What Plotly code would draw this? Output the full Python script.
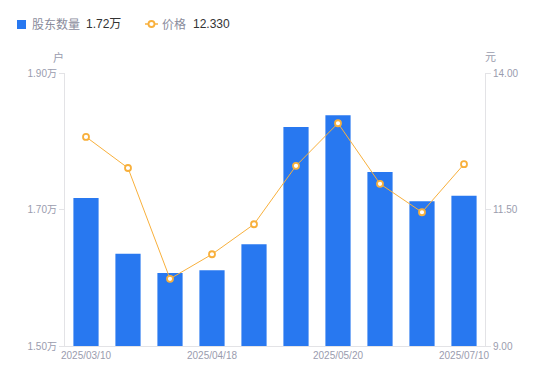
import plotly.graph_objects as go

dates = ["2025/03/10", "2025/03/31", "2025/04/10", "2025/04/18", "2025/04/30",
         "2025/05/10", "2025/05/20", "2025/06/10", "2025/06/30", "2025/07/10"]
holders = [1.717, 1.635, 1.607, 1.611, 1.649, 1.821, 1.838, 1.755, 1.712, 1.720]
prices = [12.83, 12.26, 10.23, 10.68, 11.23, 12.30, 13.08, 11.97, 11.45, 12.33]
tick_dates = ["2025/03/10", "2025/04/18", "2025/05/20", "2025/07/10"]
left_ticks = [1.50, 1.70, 1.90]
left_text = ["1.50万", "1.70万", "1.90万"]
right_ticks = [9.00, 11.50, 14.00]
right_text = ["9.00", "11.50", "14.00"]
legend_names = ["股东数量", "价格"]
legend_values = ["1.72万", "12.330"]

BLUE = "#2878f0"
ORANGE = "#f8b03c"
GRAY = "#9a9cae"
AX = "#e3e3e6"
FONT = "Liberation Sans, Arial, Noto Sans CJK SC, sans-serif"

W, H = 550, 381
L, R, T, B = 65, 65, 73, 35
PW, PH = W - L - R, H - T - B


def px(x):
    return (x - L) / PW


def py(y):
    return (H - B - y) / PH


fig = go.Figure()
fig.add_trace(go.Bar(
    x=dates, y=holders, marker=dict(color=BLUE, line=dict(width=0)), width=0.6,
    name=legend_names[0], yaxis="y", showlegend=False,
))
fig.add_trace(go.Scatter(
    x=dates, y=prices, mode="lines+markers",
    line=dict(color=ORANGE, width=1),
    marker=dict(symbol="circle", size=6, color="white", line=dict(color=ORANGE, width=1.8)),
    name=legend_names[1], yaxis="y2", showlegend=False,
))

shapes = [
    dict(type="rect", xref="paper", yref="paper", x0=px(17), x1=px(26), y0=py(20), y1=py(29),
         fillcolor=BLUE, line=dict(width=0)),
    dict(type="line", xref="paper", yref="paper", x0=px(145), x1=px(158), y0=py(24), y1=py(24),
         line=dict(color=ORANGE, width=1.5)),
    dict(type="circle", xref="paper", yref="paper", x0=px(148.5), x1=px(154.5), y0=py(21), y1=py(27),
         fillcolor="white", line=dict(color=ORANGE, width=1.8)),
]

annotations = [
    dict(text=legend_names[0], x=px(30), y=py(24.5), font=dict(size=12, color="#8a8c9c")),
    dict(text=legend_values[0], x=px(84), y=py(24.5), font=dict(size=12, color="#333333")),
    dict(text=legend_names[1], x=px(160), y=py(24.5), font=dict(size=12, color="#8a8c9c")),
    dict(text=legend_values[1], x=px(191), y=py(24.5), font=dict(size=12, color="#333333")),
]
for a in annotations:
    a.update(xref="paper", yref="paper", showarrow=False, xanchor="left", yanchor="middle")
annotations += [
    dict(text="户", xref="paper", yref="paper", x=px(58), y=py(57), showarrow=False,
         font=dict(size=11, color=GRAY), xanchor="center", yanchor="middle"),
    dict(text="元", xref="paper", yref="paper", x=px(490), y=py(57), showarrow=False,
         font=dict(size=11, color=GRAY), xanchor="center", yanchor="middle"),
]

fig.update_layout(
    width=W, height=H,
    margin=dict(l=L, r=R, t=T, b=B),
    paper_bgcolor="white", plot_bgcolor="white",
    font=dict(family=FONT, size=10, color=GRAY),
    showlegend=False,
    hovermode=False,
    xaxis=dict(type="category", range=[-0.5, 9.5], tickmode="array", tickvals=tick_dates,
               ticktext=tick_dates, showgrid=False, showline=True, linecolor=AX, linewidth=1,
               ticks="", tickfont=dict(size=10, color=GRAY), fixedrange=True),
    yaxis=dict(range=[1.5, 1.9], tickvals=left_ticks, ticktext=left_text, showgrid=False,
               zeroline=False, showline=True, linecolor=AX, ticks="outside", ticklen=5,
               tickcolor=AX, tickfont=dict(size=10, color=GRAY), fixedrange=True),
    yaxis2=dict(range=[9, 14], tickvals=right_ticks, ticktext=right_text, showgrid=False,
                zeroline=False, showline=True, linecolor=AX, ticks="outside", ticklen=5,
                tickcolor=AX, overlaying="y", side="right", tickfont=dict(size=10, color=GRAY),
                fixedrange=True),
    shapes=shapes,
    annotations=annotations,
)
fig.write_html("out.html", config={"displayModeBar": False},
               post_script="document.body.style.margin='0';document.body.style.padding='0';")
